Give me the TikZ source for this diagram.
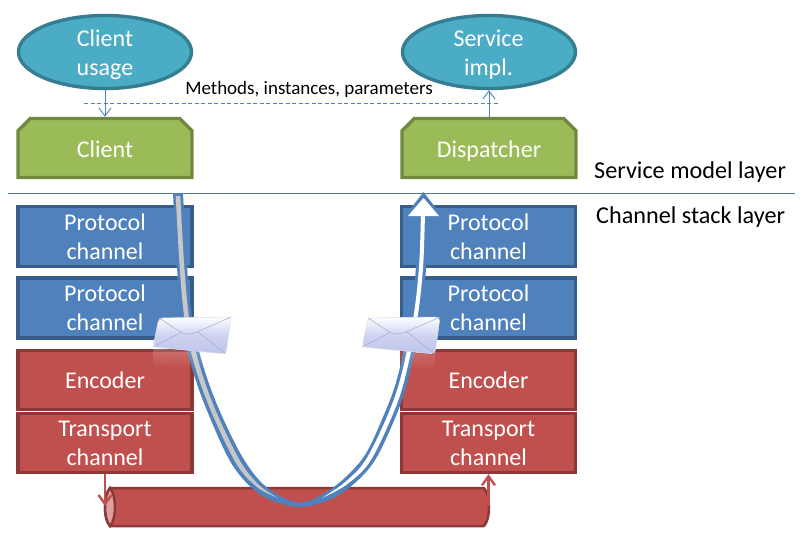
\documentclass[tikz,border=0pt]{standalone}
\usepackage{fontspec}
\setmainfont{Carlito}
\usetikzlibrary{shapes.geometric,shapes.misc,arrows.meta,fadings}
\definecolor{blueF}{HTML}{4F81BD}
\definecolor{blueL}{HTML}{385D8A}
\definecolor{redF}{HTML}{C0504D}
\definecolor{redL}{HTML}{8C3836}
\definecolor{redE}{HTML}{E0A09E}
\definecolor{greenF}{HTML}{9BBB59}
\definecolor{greenL}{HTML}{71893F}
\definecolor{aquaF}{HTML}{4BACC6}
\definecolor{aquaL}{HTML}{357D91}
\definecolor{envB}{HTML}{BEC4EC}
\definecolor{envL}{HTML}{A9AFD2}
\tikzset{
  x=1pt,y=-1pt,
  boxtext/.style={text=white,font=\fontsize{24}{29}\selectfont,align=center,inner sep=0pt},
  boxbase/.style={boxtext,rectangle,line width=3.4pt,minimum width=174pt},
  protocol/.style={boxbase,draw=blueL,fill=blueF,minimum height=60pt},
  redbox/.style={boxbase,draw=redL,fill=redF,minimum height=59pt},
  usage/.style={ellipse,draw=aquaL,fill=aquaF,line width=3.4pt,minimum width=173pt,minimum height=73pt,inner sep=0pt},
  snipped/.style={boxtext,text height=19pt,text depth=0pt,chamfered rectangle,chamfered rectangle corners={north west,north east},chamfered rectangle xsep=9pt,chamfered rectangle angle=45,draw=greenL,fill=greenF,line width=3.4pt,minimum width=174pt,minimum height=59pt},
  thinarrow/.style={draw=blueF,line width=.9pt,-{Straight Barb[length=8pt,width=12pt,line width=.9pt]}},
  redarrow/.style={draw=redF,line width=2.4pt,-{Straight Barb[length=9pt,width=13pt,line width=2.4pt]}},
  plain/.style={font=\fontsize{24.2}{29}\selectfont,inner sep=0pt},
  small/.style={font=\fontsize{19}{22}\selectfont,inner sep=0pt},
  pipebody/.style={draw=redL,fill=redF,line width=2.5pt,line join=round},
  pipeend/.style={draw=redL,fill=redE,line width=2.5pt},
  envelope/.pic={
    \fill[white,opacity=.2,path fading=south] (-6,30) -- (67,37) -- (67,52) -- (-6,47) -- cycle;
    \shade[top color=white,bottom color=envB,middle color=envB!75!white,draw=envL!40!white,line width=.6pt,rounded corners=4pt]
      (0,0) -- (72,-1) -- (67,36) -- (-6,29) -- cycle;
    \draw[envL,line width=.6pt] (0,0) .. controls (10,6) and (20,14) .. (24,15) .. controls (28,17) and (33,16) .. (38,14) -- (72,-1);
    \draw[envL,line width=.6pt] (-6,29) -- (23,14);
    \draw[envL,line width=.6pt] (67,36) -- (39,14);
  }
}
\begin{document}
\begin{tikzpicture}
\useasboundingbox (0,0) rectangle (807,538);
\fill[white] (0,0) rectangle (807,538);

\node[usage] (cu) at (105,52) {};
\node[boxtext] (cut) at (105,55) {Client\\usage};
\node[usage] (si) at (489,52) {};
\node[boxtext] (sit) at (488.5,55) {Service\\impl.};
\node[snipped] (client) at (105,148) {Client};
\node[snipped] (disp) at (489,148) {Dispatcher};

\node[protocol] (p1) at (105,236.5) {Protocol\\channel};
\node[protocol] (p2) at (105,308) {Protocol\\channel};
\node[redbox] (enc) at (105,380) {Encoder};
\node[redbox] (tr) at (105,443) {Transport\\channel};
\node[protocol] (q1) at (488.5,236.5) {Protocol\\channel};
\node[protocol] (q2) at (488.5,308) {Protocol\\channel};
\node[redbox] (enc2) at (488.5,380) {Encoder};
\node[redbox] (tr2) at (488.5,443) {Transport\\channel};

% pipe
\draw[pipebody] (110,488) -- (484,488) .. controls (487.5,492) and (489,500) .. (489,507) .. controls (489,515) and (487.5,522) .. (484,526) -- (110,526) .. controls (106.5,522) and (105,515) .. (105,507) .. controls (105,500) and (106.5,492) .. (110,488) -- cycle;
\draw[pipeend] (110,488) .. controls (106.5,492) and (105,500) .. (105,507) .. controls (105,515) and (106.5,522) .. (110,526) .. controls (113.5,522) and (115,515) .. (115,507) .. controls (115,500) and (113.5,492) .. (110,488) -- cycle;

% separator and labels
\coordinate (sepL) at (8,193);
\coordinate (sepR) at (795,193);
\draw[blueL!85!white,line width=.9pt] (sepL) -- (sepR);
\coordinate (dashL) at (84,103);
\coordinate (dashR) at (500,103);
\draw[blueF,line width=.8pt,dash pattern=on 4pt off 2.5pt] (dashL) -- (dashR);
\node[small] (methods) at (309,89) {Methods, instances, parameters};
\node[plain,anchor=west] (sml) at (594,172.5) {Service model layer};
\node[plain,anchor=west] (csl) at (596,217.5) {Channel stack layer};

% small arrows
\draw[thinarrow] (cu.south) -- (client.north);
\draw[thinarrow] (disp.north) -- (si.south);

% red arrows
\coordinate (pipeIn) at (105,506);
\coordinate (pipeOut) at (488.5,506);
\draw[redarrow] (tr.south) -- (pipeIn);
\draw[redarrow] (pipeOut) -- (tr2.south);

% big U curve
\fill[blueF] plot[smooth,tension=.55] coordinates {(173,193) (177,267) (182,322) (192,368) (208,413) (233,466) (262,495.5) (300,507) (338,495.5) (371,466) (393,423) (407.5,382) (420,322) (426,269) (428,216)}
  -- plot[smooth,tension=.55] coordinates {(418,216) (416,267) (410,319) (397,379) (383,417) (363,458) (333,487.5) (300,502.5) (267,487.5) (243,458) (218,407) (202,362) (192,318) (187,266) (183,193)} -- cycle;
\fill[black!22] plot[smooth,tension=.55] coordinates {(175.7,196) (179.7,267) (184.7,320.5) (194.8,366) (211,411) (236,463.2) (257,487) (278,498)}
  -- plot[smooth,tension=.55] coordinates {(278,498) (259,485) (240,460.8) (215,409) (199.2,364) (189.3,319.5) (184.3,267) (180.3,196)} -- cycle;
\fill[white] plot[smooth,tension=.55] coordinates {(425,212) (423,268) (417,320.5) (404,382) (390,421) (369,463) (346,485) (322,498)}
  -- plot[smooth,tension=.55] coordinates {(322,498) (344,483) (365,461) (386,419) (400,380) (413,319.5) (419,267) (421,212)} -- cycle;
% arrow head
\coordinate (tip) at (423.5,192);
\fill[blueF] (tip) -- (442,216) -- (405,216) -- cycle;
\fill[white] (423.5,198) -- (439,216) -- (408,216) -- cycle;

\pic at (159,318) {envelope};
\pic at (368,318) {envelope};
\end{tikzpicture}
\end{document}
